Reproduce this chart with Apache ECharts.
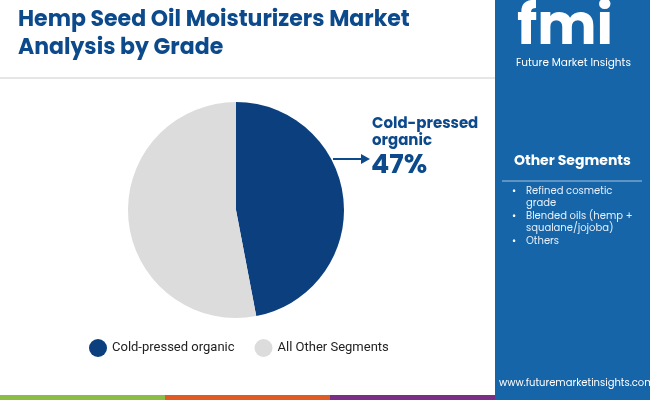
<!DOCTYPE html>
<html><head><meta charset="utf-8">
<script src="https://cdn.jsdelivr.net/npm/echarts@6/dist/echarts.min.js"></script>
<style>html,body{margin:0;padding:0}#c{width:650px;height:400px}</style>
</head><body><div id="c"></div>
<script>
const categories = ["Cold-pressed organic", "All Other Segments"];
const values = [47, 53];
const colors = ["#0c3f7d", "#dcdcdc"];
const otherSegments = ["Refined cosmetic", "grade", "Blended oils (hemp +", "squalane/jojoba)", "Others"];
const chart = echarts.init(document.getElementById('c'));
const F = 'Poppins, "Open Sans", Roboto, sans-serif';
const seg = [];
let y = 186;
[["• ", "Refined cosmetic"], ["", "grade"], ["• ", "Blended oils (hemp +"], ["", "squalane/jojoba)"], ["• ", "Others"]].forEach((p, i) => {
  if (p[0]) seg.push({type:'text', left:512, top:y, style:{text:'•', fill:'#fff', font:'10px '+F}});
  seg.push({type:'text', left:526, top:y, style:{text:otherSegments[i], fill:'#e8f0fa', font:'10px '+F}});
  y += 12.5;
});
chart.setOption({
  animation:false,
  legend:{bottom:38, left:84, itemWidth:18, itemHeight:18, icon:'circle', itemGap:20,
    textStyle:{fontFamily:'Roboto', fontSize:13, color:'#222'}, data:categories},
  graphic:[
    {type:'rect', shape:{x:495, y:0, width:155, height:400}, style:{fill:'#1565a8'}},
    {type:'rect', shape:{x:0, y:395, width:165, height:5}, style:{fill:'#8bbd45'}},
    {type:'rect', shape:{x:165, y:395, width:165, height:5}, style:{fill:'#e05a24'}},
    {type:'rect', shape:{x:330, y:395, width:165, height:5}, style:{fill:'#7b2d87'}},
    {type:'line', shape:{x1:0, y1:78, x2:495, y2:78}, style:{stroke:'#cccccc', lineWidth:1}},
    {type:'text', left:18, top:6, style:{text:'Hemp Seed Oil Moisturizers Market\nAnalysis by Grade', fill:'#0c4a8c', font:'bold 22px '+F, lineHeight:28}},
    {type:'text', left:517, top:2, style:{text:'fmi', fill:'#fff', font:'bold 56px '+F}},
    {type:'text', left:516, top:58, style:{text:'Future Market Insights', fill:'#fff', font:'10.5px '+F}},
    {type:'text', left:514, top:154, style:{text:'Other Segments', fill:'#fff', font:'bold 14px '+F}},
    {type:'line', shape:{x1:502, y1:181, x2:642, y2:181}, style:{stroke:'#a9c4e0', lineWidth:1}},
    ...seg,
    {type:'text', left:499, top:378, style:{text:'www.futuremarketinsights.com', fill:'#fff', font:'10px '+F}},
    {type:'text', left:372, top:116, style:{text:'Cold-pressed\norganic', fill:'#0c4a8c', font:'bold 15px '+F, lineHeight:17}},
    {type:'text', left:371, top:153, style:{text:'47%', fill:'#0c4a8c', font:'bold 27px '+F}},
    {type:'line', shape:{x1:333, y1:159, x2:362, y2:159}, style:{stroke:'#0c4a8c', lineWidth:2}},
    {type:'polygon', shape:{points:[[370,159],[361,154],[361,164]]}, style:{fill:'#0c4a8c'}}
  ],
  series:[{type:'pie', center:[236,210], radius:[0,108], startAngle:90, clockwise:true,
    label:{show:false}, labelLine:{show:false}, silent:true,
    data:categories.map((c,i)=>({name:c, value:values[i], itemStyle:{color:colors[i]}}))}]
});
</script></body></html>
